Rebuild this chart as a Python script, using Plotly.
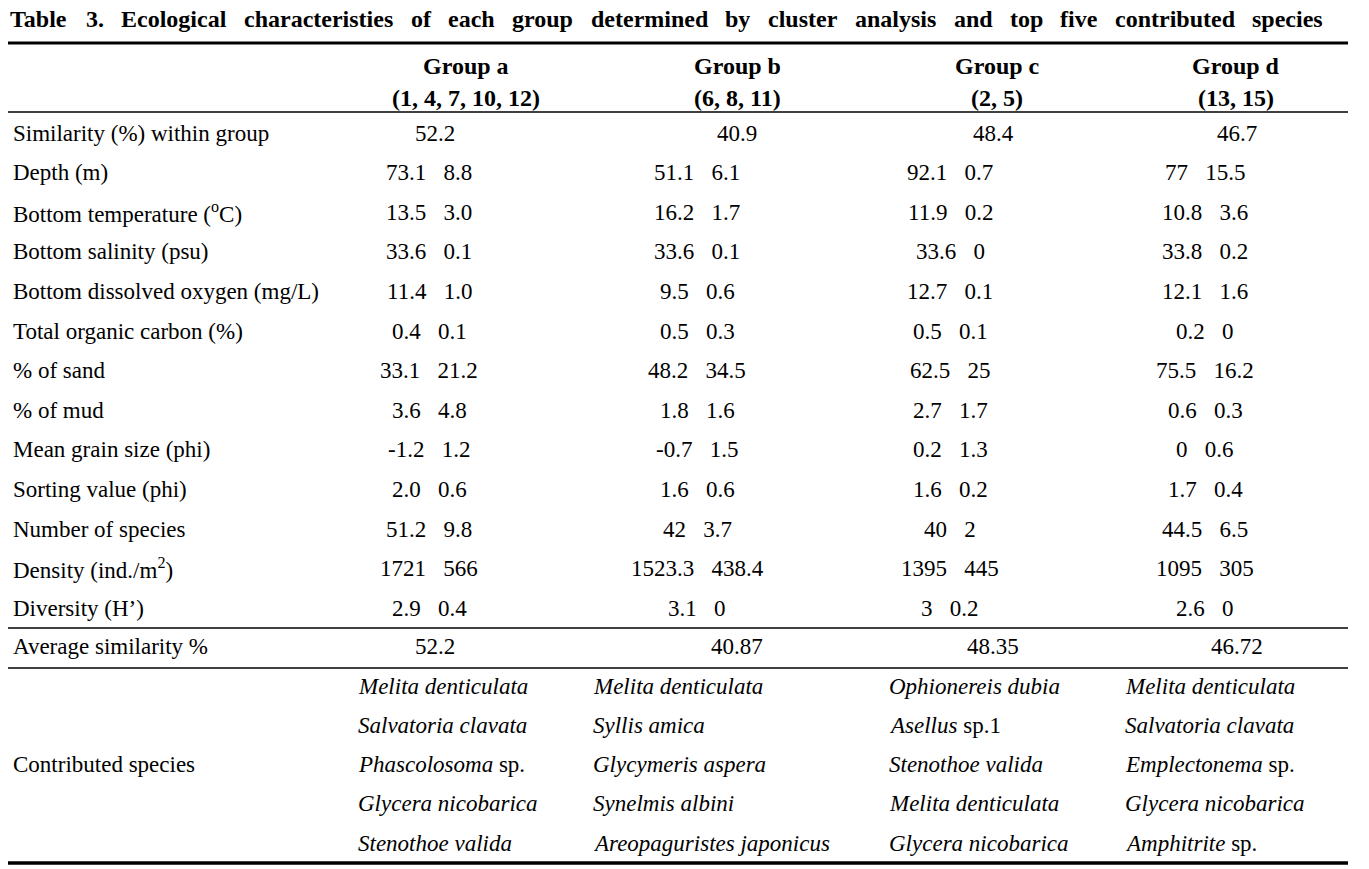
import plotly.graph_objects as go

# ---------------- data ----------------
title = ("Table 3. Ecological characteristies of each group determined by "
         "cluster analysis and top five contributed species")
groups = ["Group a", "Group b", "Group c", "Group d"]
group_sites = ["(1, 4, 7, 10, 12)", "(6, 8, 11)", "(2, 5)", "(13, 15)"]

sim_label = "Similarity (%) within group"
similarity = ["52.2", "40.9", "48.4", "46.7"]

var_labels = [
    "Depth (m)",
    "Bottom temperature (<sup>o</sup>C)",
    "Bottom salinity (psu)",
    "Bottom dissolved oxygen (mg/L)",
    "Total organic carbon (%)",
    "% of sand",
    "% of mud",
    "Mean grain size (phi)",
    "Sorting value (phi)",
    "Number of species",
    "Density (ind./m<sup>2</sup>)",
    "Diversity (H\u2019)",
]
mean_a = ["73.1", "13.5", "33.6", "11.4", "0.4", "33.1", "3.6", "-1.2", "2.0", "51.2", "1721", "2.9"]
sd_a = ["8.8", "3.0", "0.1", "1.0", "0.1", "21.2", "4.8", "1.2", "0.6", "9.8", "566", "0.4"]
mean_b = ["51.1", "16.2", "33.6", "9.5", "0.5", "48.2", "1.8", "-0.7", "1.6", "42", "1523.3", "3.1"]
sd_b = ["6.1", "1.7", "0.1", "0.6", "0.3", "34.5", "1.6", "1.5", "0.6", "3.7", "438.4", "0"]
mean_c = ["92.1", "11.9", "33.6", "12.7", "0.5", "62.5", "2.7", "0.2", "1.6", "40", "1395", "3"]
sd_c = ["0.7", "0.2", "0", "0.1", "0.1", "25", "1.7", "1.3", "0.2", "2", "445", "0.2"]
mean_d = ["77", "10.8", "33.8", "12.1", "0.2", "75.5", "0.6", "0", "1.7", "44.5", "1095", "2.6"]
sd_d = ["15.5", "3.6", "0.2", "1.6", "0", "16.2", "0.3", "0.6", "0.4", "6.5", "305", "0"]

avg_label = "Average similarity %"
avg_similarity = ["52.2", "40.87", "48.35", "46.72"]

species_label = "Contributed species"
species_a = ["<i>Melita denticulata</i>", "<i>Salvatoria clavata</i>", "<i>Phascolosoma</i> sp.",
             "<i>Glycera nicobarica</i>", "<i>Stenothoe valida</i>"]
species_b = ["<i>Melita denticulata</i>", "<i>Syllis amica</i>", "<i>Glycymeris aspera</i>",
             "<i>Synelmis albini</i>", "<i>Areopaguristes japonicus</i>"]
species_c = ["<i>Ophionereis dubia</i>", "<i>Asellus</i> sp.1", "<i>Stenothoe valida</i>",
             "<i>Melita denticulata</i>", "<i>Glycera nicobarica</i>"]
species_d = ["<i>Melita denticulata</i>", "<i>Salvatoria clavata</i>", "<i>Emplectonema</i> sp.",
             "<i>Glycera nicobarica</i>", "<i>Amphitrite</i> sp."]

# ---------------- layout constants ----------------
W, H = 1369, 869
FONT = "Liberation Serif, Times New Roman, Times, serif"
FS = 23
FS_B = 24
INK = "#000000"

label_x = 12
header_cx = [466, 737, 997, 1236]
single_cx = [435, 737, 993, 1237]
pair_cx = [429, 697, 950, 1205]
species_x = [357, 592, 888, 1124]

row_y0, row_dy = 133, 39.6
avg_y = 646
sp_y0, sp_dy = 686, 39.3
rule_x0, rule_x1 = 8, 1348

means = [mean_a, mean_b, mean_c, mean_d]
sds = [sd_a, sd_b, sd_c, sd_d]
species = [species_a, species_b, species_c, species_d]

annotations = []


def add(text, x, y, xanchor="center", size=FS, bold=False):
    annotations.append(dict(
        text=text, x=x, y=y, xref="x", yref="y", xanchor=xanchor, yanchor="middle",
        showarrow=False, borderpad=0,
        font=dict(family=FONT, size=size, color=INK, weight=700 if bold else 400),
    ))


# ---- justified bold title ----
tb = {'T': 667, 'a': 500, 'b': 556, 'l': 278, 'e': 444, '3': 500, '.': 250, 'E': 667,
      'c': 444, 'o': 500, 'g': 500, 'i': 278, 'h': 556, 'r': 444, 't': 333, 's': 389,
      'f': 333, 'u': 556, 'p': 556, 'd': 556, 'm': 833, 'n': 556, 'y': 500, 'v': 500}
words = title.split(" ")
FS_T = 24
wid = [sum(tb.get(ch, 500) for ch in w) / 1000 * FS_T for w in words]
tx0, tx1 = 9, 1322
gap = (tx1 - tx0 - sum(wid)) / (len(words) - 1)
xpos = tx0
for w, ww in zip(words, wid):
    add(w, xpos, 19, xanchor="left", size=FS_T, bold=True)
    xpos += ww + gap

# ---- header ----
for g, s, cx in zip(groups, group_sites, header_cx):
    add(g, cx, 66, size=FS_B, bold=True)
    add(s, cx, 98, size=FS_B, bold=True)

# ---- similarity row ----
add(sim_label, label_x, row_y0, xanchor="left")
for v, cx in zip(similarity, single_cx):
    add(v, cx, row_y0)

# ---- variable rows (mean, sd) ----
for i, lab in enumerate(var_labels):
    y = row_y0 + (i + 1) * row_dy
    add(lab, label_x, y, xanchor="left")
    for g in range(4):
        add(means[g][i] + "\u00a0\u00a0\u00a0" + sds[g][i], pair_cx[g], y)

# ---- average similarity ----
add(avg_label, label_x, avg_y, xanchor="left")
for v, cx in zip(avg_similarity, single_cx):
    add(v, cx, avg_y)

# ---- contributed species ----
add(species_label, label_x, sp_y0 + 2 * sp_dy, xanchor="left")
for g in range(4):
    for k, sp in enumerate(species[g]):
        add(sp, species_x[g], sp_y0 + k * sp_dy, xanchor="left")

# ---- rules ----
rules = [(43, 3.2), (112, 1.5), (628, 1.5), (668, 1.5), (863, 3.5)]
shapes = [dict(type="line", xref="x", yref="y", x0=rule_x0, x1=rule_x1, y0=y, y1=y,
               line=dict(color=INK, width=w)) for y, w in rules]

fig = go.Figure(go.Scatter(x=[], y=[]))
fig.update_layout(
    width=W, height=H,
    margin=dict(l=0, r=0, t=0, b=0),
    paper_bgcolor="white", plot_bgcolor="white",
    xaxis=dict(range=[0, W], visible=False, fixedrange=True),
    yaxis=dict(range=[H, 0], visible=False, fixedrange=True),
    showlegend=False,
    hovermode=False,
    annotations=annotations,
    shapes=shapes,
)
fig.write_html(
    "out.html",
    config={"displayModeBar": False, "staticPlot": True},
    post_script="document.body.style.margin='0';document.body.style.overflow='hidden';",
)
